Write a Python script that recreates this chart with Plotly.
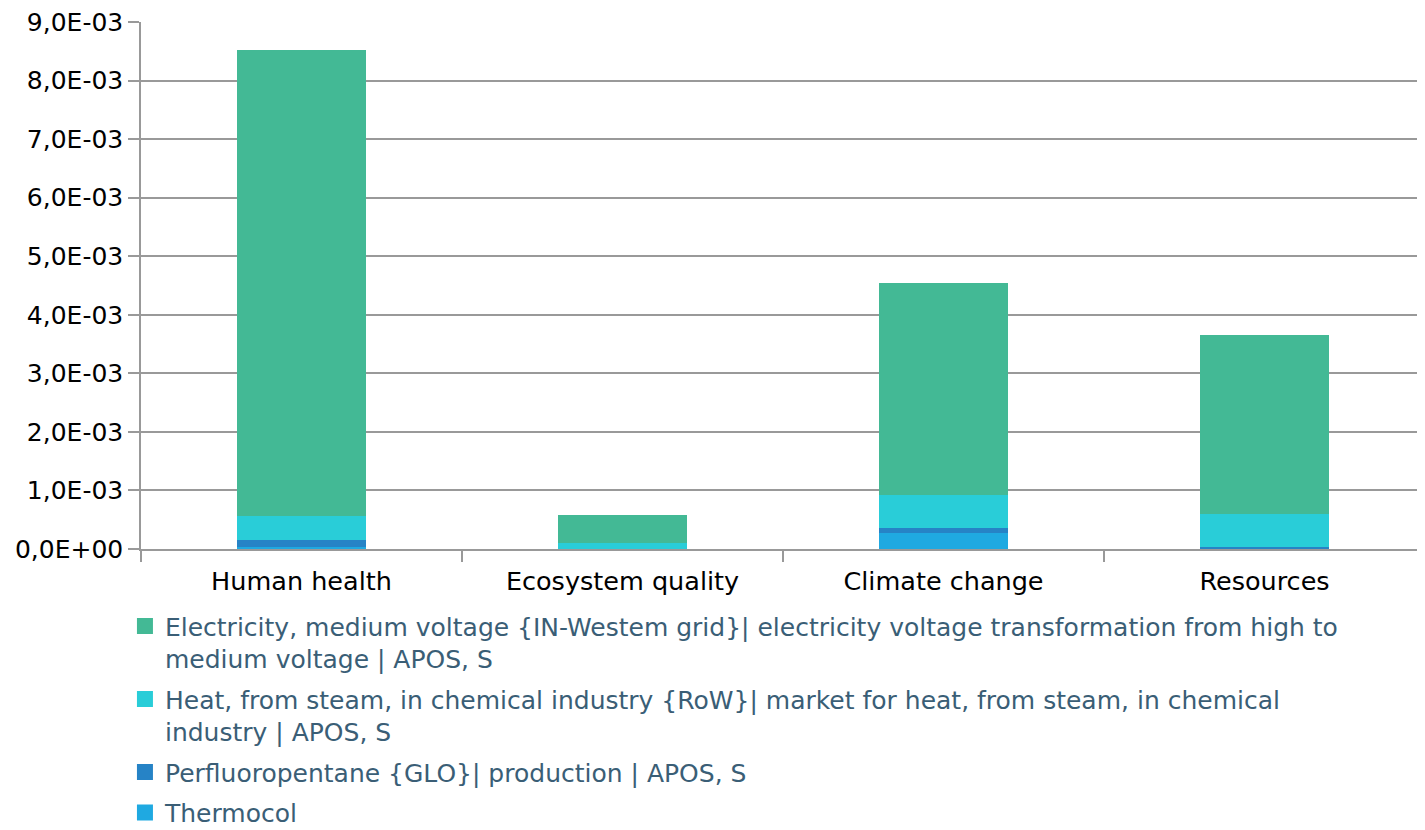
import plotly.graph_objects as go

categories = ["Human health", "Ecosystem quality", "Climate change", "Resources"]

series_names = [
    "Thermocol",
    "Perfluoropentane {GLO}| production | APOS, S",
    "Heat, from steam, in chemical industry {RoW}| market for heat, from steam, in chemical<br>industry | APOS, S",
    "Electricity, medium voltage {IN-Westem grid}| electricity voltage transformation from high to<br>medium voltage | APOS, S",
]
thermocol = [0.04e-3, 0.0005e-3, 0.28e-3, 0.005e-3]
perfluoropentane = [0.12e-3, 0.001e-3, 0.085e-3, 0.035e-3]
heat = [0.40e-3, 0.095e-3, 0.56e-3, 0.55e-3]
electricity = [7.96e-3, 0.49e-3, 3.62e-3, 3.07e-3]
series_values = [thermocol, perfluoropentane, heat, electricity]
colors = ["#1FA9E1", "#2683C6", "#29CDD8", "#43B995"]

tick_vals = [0, 1e-3, 2e-3, 3e-3, 4e-3, 5e-3, 6e-3, 7e-3, 8e-3, 9e-3]
tick_text = ["0,0E+00", "1,0E-03", "2,0E-03", "3,0E-03", "4,0E-03",
             "5,0E-03", "6,0E-03", "7,0E-03", "8,0E-03", "9,0E-03"]

FONT = "DejaVu Sans"
fig = go.Figure()
for name, vals, col in zip(series_names, series_values, colors):
    fig.add_trace(go.Bar(x=categories, y=vals, name=name, marker_color=col,
                         marker_line_width=0, showlegend=False))
# legend entries, listed top to bottom
order = [3, 2, 1, 0]
for k, i in enumerate(order):
    fig.add_trace(go.Scatter(x=[None], y=[None], mode="markers", name=series_names[i],
                             legendgroup="g%d" % k,
                             marker=dict(symbol="square", size=16, color=colors[i]),
                             showlegend=True))

fig.update_layout(
    barmode="stack",
    bargap=0.6,
    width=1417, height=822,
    margin=dict(l=133, r=0, t=14, b=281, autoexpand=False),
    plot_bgcolor="white", paper_bgcolor="white",
    font=dict(family=FONT, size=25, color="#000000"),
    legend=dict(
        traceorder="grouped",
        orientation="v",
        tracegroupgap=5,
        valign="top",
        x=-0.0125, xanchor="left",
        y=-0.103, yanchor="top",
        font=dict(family=FONT, size=25, color="#3A5E76"),
        bgcolor="rgba(0,0,0,0)",
    ),
)
fig.update_yaxes(
    range=[0, 9e-3],
    automargin=False,
    tickvals=tick_vals, ticktext=tick_text,
    ticklabeloverflow="allow",
    showgrid=True, gridcolor="#999999", gridwidth=1.5,
    showline=True, linecolor="#999999", linewidth=1.5,
    ticks="outside", ticklen=11, tickcolor="#999999", tickwidth=1.5,
    zeroline=False,
    tickfont=dict(family=FONT, size=25, color="#000000"),
)
fig.update_xaxes(
    automargin=False,
    showline=True, linecolor="#999999", linewidth=2,
    ticks="outside", tickson="boundaries", ticklen=11,
    tickcolor="#999999", tickwidth=1.5,
    ticklabelstandoff=8,
    showgrid=False,
    tickfont=dict(family=FONT, size=25.5, color="#000000"),
)

fig.write_html("out.html")
